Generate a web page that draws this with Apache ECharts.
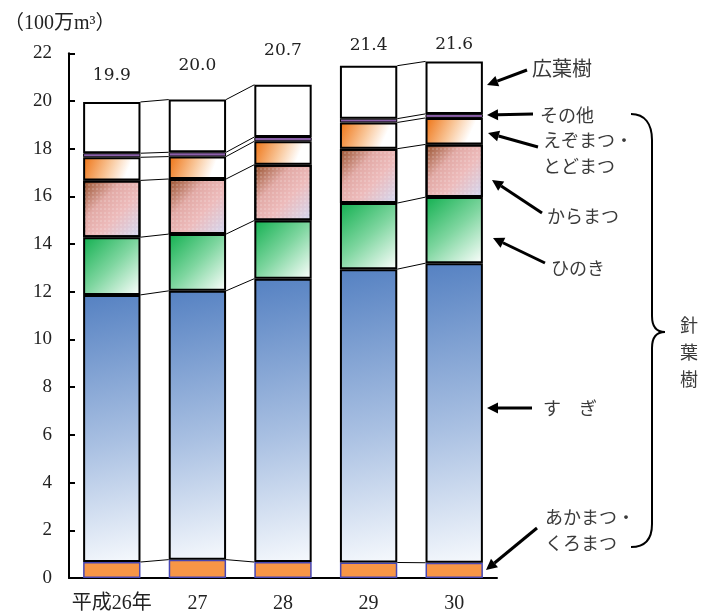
<!DOCTYPE html>
<html><head><meta charset="utf-8">
<script src="https://cdn.jsdelivr.net/npm/echarts@6/dist/echarts.min.js"></script>
<style>html,body{margin:0;padding:0;background:#fff}#c{width:702px;height:614px}</style>
</head><body><div id="c"></div>
<script>
var categories = ['平成26年', '27', '28', '29', '30'];
var akamatsu  = [0.67, 0.77, 0.67, 0.65, 0.64];
var sugi      = [11.20, 11.27, 11.88, 12.30, 12.56];
var hinoki    = [2.42, 2.38, 2.44, 2.77, 2.77];
var karamatsu = [2.38, 2.31, 2.34, 2.28, 2.21];
var ezo       = [0.97, 0.94, 0.98, 1.10, 1.11];
var sonota    = [0.17, 0.18, 0.18, 0.16, 0.17];
var koyoju    = [2.15, 2.21, 2.19, 2.22, 2.20];
var totals    = [19.9, 20.0, 20.7, 21.4, 21.6];
var connectedPairs = [[0, 1], [1, 2], [3, 4]];
var yTicks = {min: 0, max: 22, interval: 2};

var layers = [akamatsu, sugi, hinoki, karamatsu, ezo, sonota, koyoju];
function cum(i, k) { var s = 0; for (var j = 0; j <= k; j++) s += layers[j][i]; return s; }

var NUM = '"Liberation Serif", "Noto Sans CJK JP", serif';
var JP = '"Noto Sans CJK JP", sans-serif';
var BW = 0.67;

function grad(stops) {
  return new echarts.graphic.LinearGradient(0, 0, 1, 1, stops.map(function (s) { return {offset: s[0], color: s[1]}; }));
}
var black = {borderColor: '#000', borderWidth: 2};
var seriesDefs = [
  {name: 'あかまつ・くろまつ', data: akamatsu, style: {color: '#F79646', borderColor: '#4646B4', borderWidth: 1.5}},
  {name: 'すぎ', data: sugi, style: Object.assign({color: grad([[0, '#5581C2'], [0.55, '#A9C0E2'], [1, '#F6F9FD']])}, black)},
  {name: 'ひのき', data: hinoki, style: Object.assign({color: grad([[0, '#12B050'], [0.5, '#7FD6A0'], [1, '#FFFFFF']])}, black)},
  {name: 'からまつ', data: karamatsu, style: Object.assign({color: grad([[0, '#96502A'], [0.35, '#E2AAA6'], [0.6, '#EDBBBB'], [1, '#D2D8F2']]),
      decal: {symbol: 'rect', symbolSize: 0.6, color: 'rgba(255,255,255,0.55)', dashArrayX: [2, 2], dashArrayY: [2, 2]}}, black)},
  {name: 'えぞまつ・とどまつ', data: ezo, style: Object.assign({color: grad([[0, '#EE7212'], [0.45, '#F9C89C'], [0.75, '#FFFFFF'], [1, '#FFFFFF']])}, black)},
  {name: 'その他', data: sonota, style: {color: '#8A5FA8', borderColor: '#000', borderWidth: 1}},
  {name: '広葉樹', data: koyoju, style: Object.assign({color: '#FFFFFF'}, black)}
];
var labelDist = [18, 25, 26, 12, 8];

var series = seriesDefs.map(function (d, k) {
  var s = {
    type: 'bar', name: d.name, stack: 'all', barWidth: (BW * 100) + '%',
    itemStyle: d.style, z: 2 + k,
    data: d.data.slice()
  };
  if (k === seriesDefs.length - 1) {
    s.data = d.data.map(function (v, i) {
      return {value: v, label: {show: true, position: 'top', distance: labelDist[i],
        formatter: totals[i].toFixed(1), fontFamily: '"DejaVu Serif", serif', fontSize: 17, color: '#222'}};
    });
  }
  return s;
});

series.push({
  type: 'custom', coordinateSystem: 'cartesian2d', z: 1, silent: true,
  data: connectedPairs,
  encode: {x: [0, 1]},
  renderItem: function (params, api) {
    var a = api.value(0), b = api.value(1);
    var half = api.size([1, 0])[0] * BW / 2;
    var children = [];
    for (var k = 0; k < layers.length; k++) {
      var p1 = api.coord([a, cum(a, k)]);
      var p2 = api.coord([b, cum(b, k)]);
      children.push({type: 'line', shape: {x1: p1[0] + half, y1: p1[1], x2: p2[0] - half, y2: p2[1]},
        style: {stroke: '#000', lineWidth: 1}});
    }
    return {type: 'group', children: children};
  }
});

function arrow(x1, y1, x2, y2) {
  var dx = x2 - x1, dy = y2 - y1, L = Math.sqrt(dx * dx + dy * dy);
  var ux = dx / L, uy = dy / L, hl = 11, hw = 5.5;
  var bx = x2 - ux * hl, by = y2 - uy * hl;
  return [
    {type: 'line', shape: {x1: x1, y1: y1, x2: bx, y2: by}, style: {stroke: '#000', lineWidth: 3}},
    {type: 'polygon', shape: {points: [[x2, y2], [bx - uy * hw, by + ux * hw], [bx + uy * hw, by - ux * hw]]}, style: {fill: '#000'}}
  ];
}
function txt(x, y, t, opts) {
  return {type: 'text', x: x, y: y, style: Object.assign({text: t, font: '18px ' + JP, fill: '#3a3a3a', verticalAlign: 'middle', lineHeight: 26}, opts || {})};
}
function bz(x1, y1, c1x, c1y, c2x, c2y, x2, y2) {
  return {type: 'bezierCurve', shape: {x1: x1, y1: y1, cpx1: c1x, cpy1: c1y, cpx2: c2x, cpy2: c2y, x2: x2, y2: y2},
    style: {stroke: '#000', lineWidth: 2, fill: null}};
}
function ln(x1, y1, x2, y2) {
  return {type: 'line', shape: {x1: x1, y1: y1, x2: x2, y2: y2}, style: {stroke: '#000', lineWidth: 2}};
}

var graphics = [];
graphics.push({type: 'text', x: 4, y: 24, style: {text: '（100万m³）', font: '20px ' + NUM, fill: '#222', verticalAlign: 'middle'}});
graphics = graphics.concat(
  arrow(527, 70, 487, 85),
  arrow(533, 114, 487, 115),
  arrow(538, 147, 488, 133),
  arrow(542, 213, 492, 180),
  arrow(545, 263, 493, 238),
  arrow(532, 408, 487, 408),
  arrow(537, 528, 486, 570)
);
graphics.push(txt(532, 68, '広葉樹', {font: '20px ' + JP}));
graphics.push(txt(540, 115, 'その他'));
graphics.push(txt(543, 153, 'えぞまつ・\nとどまつ'));
graphics.push(txt(547, 216, 'からまつ'));
graphics.push(txt(551, 268, 'ひのき'));
graphics.push(txt(543, 408, 'す　ぎ'));
graphics.push(txt(545, 530, 'あかまつ・\nくろまつ'));
graphics.push(txt(680, 352, '針\n葉\n樹', {lineHeight: 27}));
graphics.push(
  bz(631, 114, 645, 114, 652, 124, 652, 140),
  ln(652, 140, 652, 316),
  bz(652, 316, 652, 326, 656, 332, 665, 332),
  bz(665, 332, 656, 332, 652, 338, 652, 348),
  ln(652, 348, 652, 524),
  bz(652, 524, 652, 540, 645, 547, 631, 547)
);

var chart = echarts.init(document.getElementById('c'));
chart.setOption({
  animation: false,
  grid: {left: 69, right: 205, top: 53.3, bottom: 34.7, containLabel: false},
  xAxis: {type: 'category', data: categories,
    axisLine: {lineStyle: {color: '#000', width: 2}}, axisTick: {show: false},
    axisLabel: {fontFamily: NUM, fontSize: 20, color: '#222', margin: 16, interval: 0}},
  yAxis: {type: 'value', min: yTicks.min, max: yTicks.max, interval: yTicks.interval,
    axisLine: {show: true, lineStyle: {color: '#000', width: 2}},
    axisTick: {show: true, inside: true, length: 6, lineStyle: {color: '#000', width: 2}},
    splitLine: {show: false},
    axisLabel: {fontFamily: NUM, fontSize: 19, color: '#222', margin: 17}},
  series: series,
  graphic: graphics
});
</script></body></html>
